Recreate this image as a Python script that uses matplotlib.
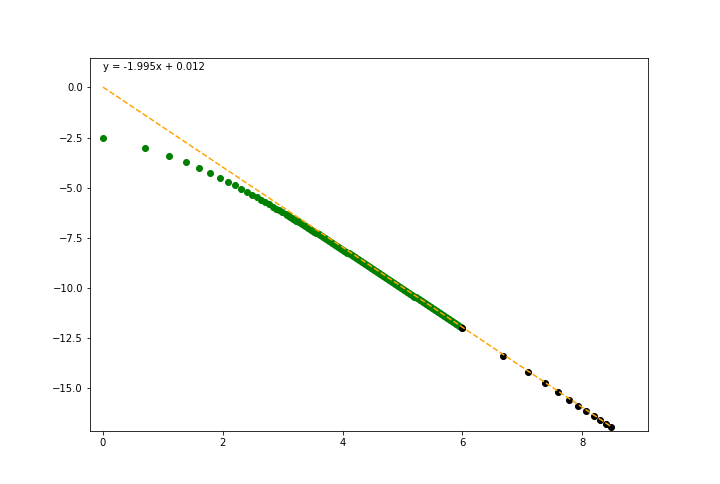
import matplotlib
matplotlib.use("Agg")
import matplotlib.pyplot as plt

# Green series (x = ln n, y values)
green_x = [0.000, 0.693, 1.099, 1.386, 1.609, 1.792, 1.946, 2.079, 2.197, 2.303,
           2.398, 2.485, 2.565, 2.639, 2.708, 2.773, 2.833, 2.890, 2.944, 2.996,
           3.05, 3.075, 3.10, 3.125, 3.15, 3.175, 3.20, 3.225, 3.25, 3.275,
           3.30, 3.325, 3.35, 3.375, 3.40, 3.425, 3.45, 3.475, 3.50, 3.525,
           3.55, 3.575, 3.60, 3.625, 3.65, 3.675, 3.70, 3.725, 3.75, 3.775,
           3.80, 3.825, 3.85, 3.875, 3.90, 3.925, 3.95, 3.975, 4.00, 4.025,
           4.05, 4.075, 4.10, 4.125, 4.15, 4.175, 4.20, 4.225, 4.25, 4.275,
           4.30, 4.325, 4.35, 4.375, 4.40, 4.425, 4.45, 4.475, 4.50, 4.525,
           4.55, 4.575, 4.60, 4.625, 4.65, 4.675, 4.70, 4.725, 4.75, 4.775,
           4.80, 4.825, 4.85, 4.875, 4.90, 4.925, 4.95, 4.975, 5.00, 5.025,
           5.05, 5.075, 5.10, 5.125, 5.15, 5.175, 5.20, 5.225, 5.25, 5.275,
           5.30, 5.325, 5.35, 5.375, 5.40, 5.425, 5.45, 5.475, 5.50, 5.525,
           5.55, 5.575, 5.60, 5.625, 5.65, 5.675, 5.70, 5.725, 5.75, 5.775,
           5.80, 5.825, 5.85, 5.875, 5.90, 5.925, 5.95, 5.975, 6.00]
green_y = [-2.500, -3.004, -3.406, -3.741, -4.027, -4.278, -4.500, -4.701, -4.883, -5.050,
           -5.204, -5.347, -5.480, -5.606, -5.723, -5.834, -5.940, -6.040, -6.135, -6.226,
           -6.323, -6.368, -6.413, -6.458, -6.503, -6.548, -6.593, -6.638, -6.684, -6.730,
           -6.776, -6.821, -6.867, -6.913, -6.960, -7.006, -7.052, -7.098, -7.145, -7.191,
           -7.238, -7.285, -7.332, -7.378, -7.425, -7.472, -7.519, -7.566, -7.614, -7.661,
           -7.708, -7.755, -7.803, -7.850, -7.898, -7.946, -7.994, -8.041, -8.089, -8.137,
           -8.185, -8.233, -8.281, -8.329, -8.377, -8.425, -8.473, -8.521, -8.570, -8.618,
           -8.666, -8.714, -8.763, -8.811, -8.860, -8.908, -8.957, -9.006, -9.055, -9.103,
           -9.152, -9.200, -9.249, -9.298, -9.347, -9.396, -9.445, -9.494, -9.543, -9.592,
           -9.641, -9.690, -9.739, -9.788, -9.837, -9.886, -9.935, -9.984, -10.033, -10.082,
           -10.132, -10.181, -10.230, -10.279, -10.329, -10.378, -10.427, -10.476, -10.526, -10.575,
           -10.625, -10.674, -10.723, -10.772, -10.822, -10.871, -10.921, -10.970, -11.020, -11.069,
           -11.119, -11.168, -11.218, -11.267, -11.317, -11.367, -11.417, -11.466, -11.516, -11.565,
           -11.615, -11.664, -11.714, -11.764, -11.814, -11.863, -11.913, -11.962, -12.012]

# Black series
black_x = [5.991, 6.685, 7.090, 7.378, 7.601, 7.783, 7.937, 8.071, 8.189, 8.294, 8.389, 8.476]
black_y = [-11.994, -13.376, -14.184, -14.759, -15.204, -15.568, -15.876, -16.143,
           -16.379, -16.589, -16.779, -16.953]

# Fit line
slope = -1.995
intercept = 0.012
fit_x = [0.0, 8.476]

fig = plt.figure(figsize=(10, 484 / 72), dpi=72)
ax = fig.add_subplot(111)
ax.scatter(green_x, green_y, color='green', s=36, zorder=2)
ax.scatter(black_x, black_y, color='black', s=36, zorder=3)
ax.plot(fit_x, [slope * v + intercept for v in fit_x], linestyle='--', color='orange', zorder=4)
ax.text(0, 0.86, f"y = {slope}x + {intercept}", fontsize=10)
ax.set_xlim(-0.217, 9.098)
ax.set_ylim(-17.12, 1.46)
ax.set_xticks([0, 2, 4, 6, 8])
ax.set_yticks([0.0, -2.5, -5.0, -7.5, -10.0, -12.5, -15.0])
fig.savefig("out.png", dpi=72)
